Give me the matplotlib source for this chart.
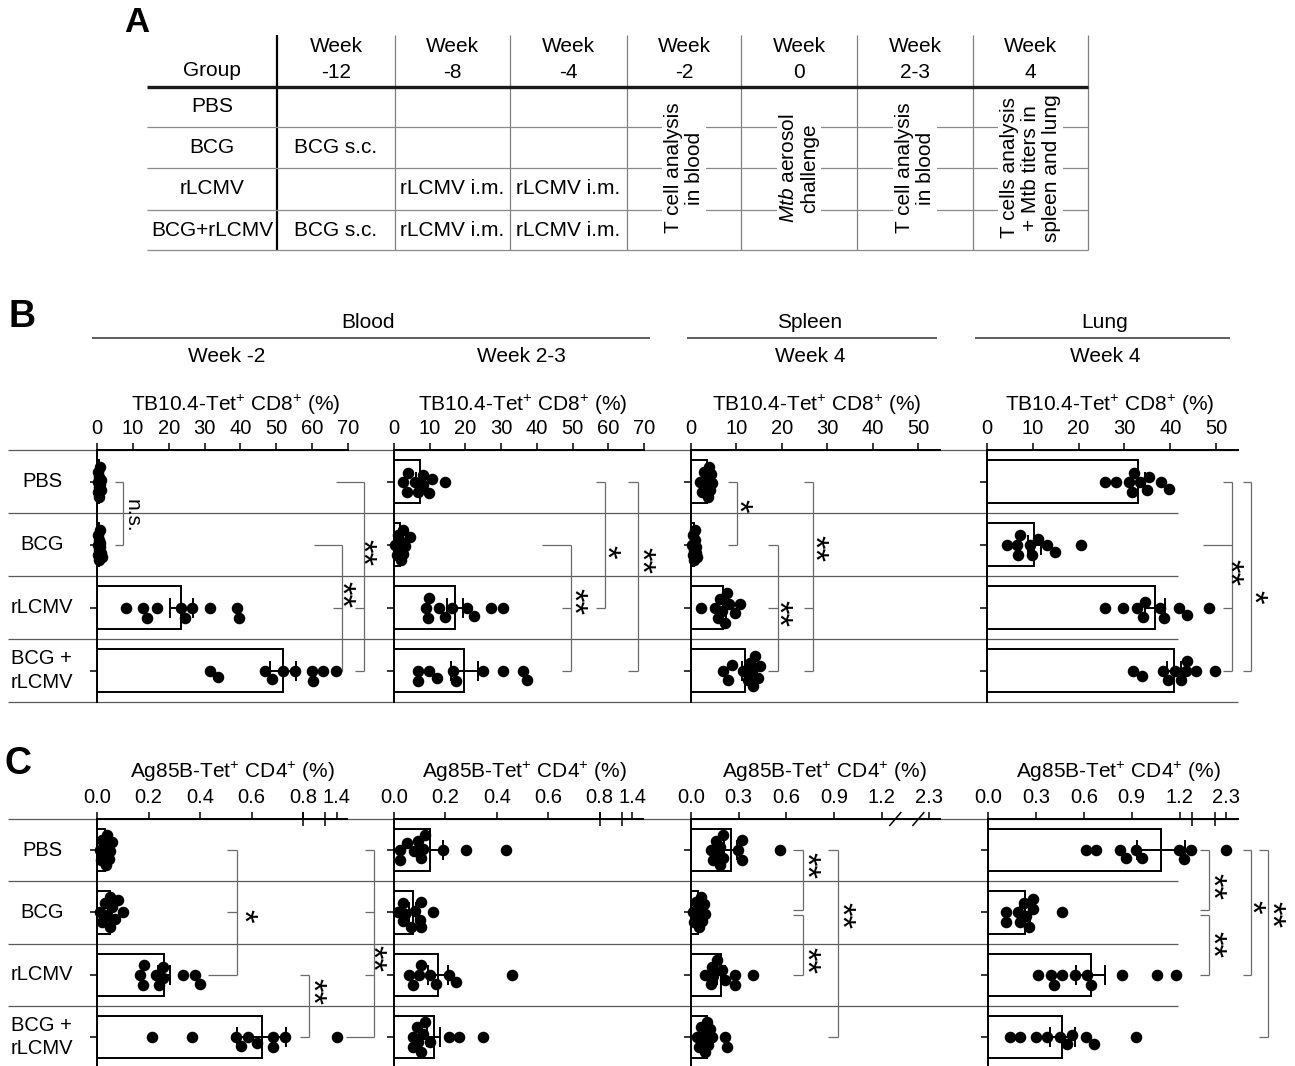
import numpy as np
import matplotlib
matplotlib.use('Agg')
import matplotlib.pyplot as plt

plt.rcParams['font.family'] = ['Liberation Sans', 'DejaVu Sans']
plt.rcParams['mathtext.fontset'] = 'custom'
plt.rcParams['mathtext.rm'] = 'Liberation Sans'
plt.rcParams['mathtext.it'] = 'Liberation Sans:italic'
plt.rcParams['mathtext.bf'] = 'Liberation Sans:bold'

W, H = 1295, 1066

# ---------------------------------------------------------------- data
groups = ['PBS', 'BCG', 'rLCMV', 'BCG +\nrLCMV']

# Panel A (schedule table)
table_groups = ['PBS', 'BCG', 'rLCMV', 'BCG+rLCMV']
table_weeks = ['-12', '-8', '-4', '-2', '0', '2-3', '4']
col_week12 = ['', 'BCG s.c.', '', 'BCG s.c.']
col_week8 = ['', '', 'rLCMV i.m.', 'rLCMV i.m.']
col_week4 = ['', '', 'rLCMV i.m.', 'rLCMV i.m.']
events = ['T cell analysis\nin blood', '$\\it{Mtb}$ aerosol\nchallenge',
          'T cell analysis\nin blood', 'T cells analysis\n+ Mtb titers in\nspleen and lung']

tet_cd8 = 'TB10.4-Tet$^{+}$ CD8$^{+}$ (%)'
tet_cd4 = 'Ag85B-Tet$^{+}$ CD4$^{+}$ (%)'

ticks_70 = [0, 10, 20, 30, 40, 50, 60, 70]
ticks_50 = [0, 10, 20, 30, 40, 50]
ticks_14 = [0.0, 0.2, 0.4, 0.6, 0.8, 1.4]
ticks_23 = [0.0, 0.3, 0.6, 0.9, 1.2, 2.3]

# Panel B: TB10.4-Tet+ CD8+ (%)
B1_pts = [[0.2, 0.3, 0.4, 0.5, 0.5, 0.6, 0.7, 0.8, 1.0, 1.2],
          [0.2, 0.3, 0.4, 0.5, 0.5, 0.6, 0.7, 0.8, 0.9, 1.1, 1.3],
          [8.1, 12.8, 13.9, 16.8, 23.5, 24.6, 26.6, 31.6, 39.0, 39.5],
          [31.5, 33.8, 46.9, 48.7, 52.0, 55.2, 60.3, 60.1, 63.0, 66.7]]
B1_mean = [0.6, 0.65, 23.5, 51.8]
B1_sem = [0.1, 0.1, 3.2, 3.6]

B2_pts = [[10.6, 6.8, 4.0, 8.2, 2.6, 14.3, 3.7, 8.0, 5.9, 9.9],
          [1.7, 2.6, 1.2, 0.3, 3.1, 4.5, 2.1, 2.6, 0.8, 1.5],
          [9.9, 9.0, 16.2, 20.4, 30.6, 9.6, 14.3, 12.7, 22.4, 27.1],
          [9.9, 6.8, 12.1, 16.4, 17.3, 24.9, 30.6, 37.3, 36.0, 6.8]]
B2_mean = [7.3, 1.8, 17.1, 19.7]
B2_sem = [1.1, 0.4, 2.2, 3.7]

B3_pts = [[4.0, 3.1, 2.0, 4.3, 2.9, 4.6, 3.5, 4.2, 2.4, 3.8],
          [0.3, 0.5, 0.7, 0.9, 1.1, 0.4, 0.8, 1.3, 0.6, 1.0],
          [2.1, 6.0, 5.3, 9.7, 7.5, 6.4, 8.4, 10.8, 7.9, 6.8],
          [9.0, 7.1, 8.2, 11.5, 12.6, 13.4, 14.1, 14.8, 13.7, 15.2, 13.0]]
B3_mean = [3.5, 0.75, 7.0, 11.9]
B3_sem = [0.3, 0.1, 0.8, 0.7]

B4_pts = [[25.8, 28.2, 30.9, 31.6, 33.4, 34.9, 35.4, 32.1, 38.1, 39.8],
          [6.8, 9.8, 4.4, 13.2, 9.4, 6.6, 14.8, 11.2, 7.2, 20.5],
          [25.8, 29.8, 34.0, 32.7, 34.5, 37.8, 38.6, 42.0, 43.7, 48.5],
          [31.8, 33.8, 39.6, 38.5, 43.6, 42.3, 43.4, 41.0, 45.6, 49.8]]
B4_mean = [33.0, 10.3, 36.7, 40.8]
B4_sem = [1.5, 1.4, 2.2, 1.6]

# Panel C: Ag85B-Tet+ CD4+ (%)
C1_pts = [[0.01, 0.015, 0.02, 0.025, 0.03, 0.035, 0.04, 0.045, 0.05, 0.06],
          [0.01, 0.02, 0.03, 0.04, 0.05, 0.05, 0.06, 0.07, 0.08, 0.10],
          [0.183, 0.255, 0.333, 0.167, 0.242, 0.40, 0.177, 0.229, 0.258, 0.381],
          [0.212, 0.368, 0.588, 0.685, 0.54, 0.62, 0.73, 0.558, 0.685, 1.4]]
C1_mean = [0.031, 0.05, 0.26, 0.64]
C1_sem = [0.006, 0.008, 0.025, 0.095]

C2_pts = [[0.052, 0.107, 0.023, 0.094, 0.189, 0.282, 0.437, 0.023, 0.114, 0.078, 0.12],
          [0.107, 0.065, 0.036, 0.10, 0.152, 0.017, 0.081, 0.036, 0.043, 0.104],
          [0.098, 0.214, 0.059, 0.163, 0.46, 0.072, 0.14, 0.243, 0.107],
          [0.094, 0.12, 0.075, 0.14, 0.075, 0.114, 0.214, 0.346, 0.253, 0.107, 0.088]]
C2_mean = [0.14, 0.072, 0.172, 0.155]
C2_sem = [0.05, 0.014, 0.038, 0.025]

C3_pts = [[0.157, 0.182, 0.319, 0.14, 0.124, 0.203, 0.298, 0.56, 0.161, 0.203, 0.182, 0.319],
          [0.01, 0.02, 0.03, 0.04, 0.05, 0.05, 0.06, 0.07, 0.08, 0.09],
          [0.124, 0.277, 0.088, 0.161, 0.193, 0.13, 0.14, 0.388, 0.277, 0.214],
          [0.04, 0.05, 0.06, 0.07, 0.08, 0.09, 0.10, 0.11, 0.12, 0.13, 0.229, 0.214]]
C3_mean = [0.25, 0.046, 0.187, 0.10]
C3_sem = [0.04, 0.01, 0.025, 0.015]

C4_pts = [[0.616, 0.679, 0.825, 0.866, 0.929, 0.967, 1.225, 1.196, 1.273, 2.3],
          [0.188, 0.236, 0.282, 0.115, 0.198, 0.255, 0.466, 0.115, 0.224, 0.282],
          [0.411, 0.543, 0.62, 0.313, 0.466, 0.397, 0.647, 0.841, 1.058, 1.175],
          [0.14, 0.37, 0.528, 0.662, 0.449, 0.203, 0.299, 0.495, 0.616, 0.929]]
C4_mean = [1.086, 0.23, 0.643, 0.466]
C4_sem = [0.15, 0.03, 0.092, 0.077]

# ---------------------------------------------------------------- layout
B_TOP, B_ROWH = 450, 63.0
C_TOP, C_ROWH = 819, 62.3
LINE_GRAY = '#5a5a5a'
BR_GRAY = '#6a6a6a'
FS = 15
TFS = 14.5
STAR_FS = 25
STAR_DX = -10

panels = [
    dict(pts=B1_pts, mean=B1_mean, sem=B1_sem, ticks=ticks_70, fmt='{:d}', left=97, top=B_TOP, rowh=B_ROWH,
         ppu=3.585, xmax=70, brk=None, title=tet_cd8, tx=236, ty=405),
    dict(pts=B2_pts, mean=B2_mean, sem=B2_sem, ticks=ticks_70, fmt='{:d}', left=394, top=B_TOP, rowh=B_ROWH,
         ppu=3.57, xmax=70, brk=None, title=tet_cd8, tx=523, ty=405),
    dict(pts=B3_pts, mean=B3_mean, sem=B3_sem, ticks=ticks_50, fmt='{:d}', left=691, top=B_TOP, rowh=B_ROWH,
         ppu=4.54, xmax=54.8, brk=None, title=tet_cd8, tx=817, ty=405),
    dict(pts=B4_pts, mean=B4_mean, sem=B4_sem, ticks=ticks_50, fmt='{:d}', left=987, top=B_TOP, rowh=B_ROWH,
         ppu=4.58, xmax=54.8, brk=None, title=tet_cd8, tx=1110, ty=405),
    dict(pts=C1_pts, mean=C1_mean, sem=C1_sem, ticks=ticks_14, fmt='{:.1f}', left=97, top=C_TOP, rowh=C_ROWH,
         ppu=257.5, xmax=1.44, brk=(0.8, 1.355, 0.0854), mark='tick', title=tet_cd4, tx=232, ty=772),
    dict(pts=C2_pts, mean=C2_mean, sem=C2_sem, ticks=ticks_14, fmt='{:.1f}', left=394, top=C_TOP, rowh=C_ROWH,
         ppu=257.0, xmax=1.44, brk=(0.8, 1.36, 0.087), mark='tick', title=tet_cd4, tx=524, ty=772),
    dict(pts=C3_pts, mean=C3_mean, sem=C3_sem, ticks=ticks_23, fmt='{:.1f}', left=691, top=C_TOP, rowh=C_ROWH,
         ppu=159.0, xmax=2.374, brk=(1.285, 2.235, 0.145), mark='slash', title=tet_cd4, tx=824, ty=772),
    dict(pts=C4_pts, mean=C4_mean, sem=C4_sem, ticks=ticks_23, fmt='{:.1f}', left=988, top=C_TOP, rowh=C_ROWH,
         ppu=159.7, xmax=2.373, brk=(1.28, 2.227, 0.14), mark='tick', title=tet_cd4, tx=1118, ty=772),
]

# significance brackets: (x_px, [(row, arm_start_px), ...], label, label_x_px, label_row)
B_brackets = [
    (123, [(0, 115), (1, 115)], 'n.s.', 132, 0.55),
    (342, [(1, 314), (2, 333), (3, 333)], '**', 350, 1.79),
    (364, [(0, 336), (2, 355), (3, 355)], '**', 371, 1.13),
    (571, [(1, 542), (2, 562), (3, 562)], '**', 582, 1.9),
    (605, [(0, 596), (2, 596)], '*', 615, 1.11),
    (638, [(0, 628), (3, 628)], '**', 650, 1.26),
    (737, [(0, 728), (1, 728)], '*', 747, 0.39),
    (778, [(1, 768), (2, 768), (3, 768)], '**', 787, 2.1),
    (813, [(0, 804), (2, 804), (3, 804)], '**', 823, 1.07),
    (1232, [(0, 1223), (1, 1203), (2, 1223), (3, 1223)], '**', 1238, 1.45),
    (1251, [(0, 1243), (3, 1243)], '*', 1262, 1.83),
]
C_brackets = [
    (237, [(0, 227), (1, 227), (2, 208)], '*', 252, 1.06),
    (309, [(2, 300), (3, 300)], '**', 321, 2.27),
    (374, [(0, 365), (1, 365), (2, 365), (3, 346)], '**', 381, 1.74),
    (803, [(0, 793), (0.96, 793)], '**', 815, 0.24),
    (803, [(1.04, 793), (2, 793)], '**', 815, 1.77),
    (838, [(0, 828), (3, 828)], '**', 850, 1.05),
    (1209, [(0, 1200), (0.96, 1200)], '**', 1221, 0.59),
    (1209, [(1.04, 1200), (2, 1200)], '**', 1221, 1.52),
    (1251, [(0, 1243), (2, 1243)], '*', 1260, 0.91),
    (1268, [(0, 1259), (3, 1259)], '**', 1280, 1.04),
]

# ---------------------------------------------------------------- helpers
fig = plt.figure(figsize=(W / 100, H / 100), dpi=100)
ov = fig.add_axes([0, 0, 1, 1])
ov.set_xlim(0, W)
ov.set_ylim(H, 0)
ov.axis('off')
ov.set_zorder(0)


def seg(xs, ys, **kw):
    kw.setdefault('solid_capstyle', 'butt')
    ov.plot(xs, ys, **kw)


def txt(x, y, s, **kw):
    kw.setdefault('fontsize', FS)
    kw.setdefault('ha', 'center')
    kw.setdefault('va', 'center')
    return ov.text(x, y, s, **kw)


def brk_funcs(lo, hi, gap):
    def fwd(x):
        x = np.asarray(x, dtype=float)
        mid = lo + (x - lo) * gap / (hi - lo)
        return np.where(x <= lo, x, np.where(x >= hi, x - hi + lo + gap, mid))

    def inv(y):
        y = np.asarray(y, dtype=float)
        mid = lo + (y - lo) * (hi - lo) / gap
        return np.where(y <= lo, y, np.where(y >= lo + gap, y - lo - gap + hi, mid))
    return fwd, inv


def swarm(ax, xs, rowh, d=10.0, maxoff=15.0):
    xs = np.asarray(xs, dtype=float)
    px = ax.transData.transform(np.column_stack([xs, np.zeros(len(xs))]))[:, 0]
    cands = sorted(np.arange(-maxoff, maxoff + 0.01, 1.0), key=lambda v: (abs(v), -v))
    offs = np.zeros(len(xs))
    placed = []
    for i in np.argsort(px, kind='stable'):
        best, best_md, chosen = None, -1, None
        for c in cands:
            md = min([np.hypot(px[i] - px[j], c - offs[j]) for j in placed], default=1e9)
            if md >= d:
                chosen = c
                break
            if md > best_md:
                best_md, best = md, c
        offs[i] = chosen if chosen is not None else best
        placed.append(i)
    return offs / rowh


# ---------------------------------------------------------------- panel A
txt(137, 22, 'A', fontsize=25, fontweight='bold')
tab_cols = [147, 277, 395, 510, 627, 741, 857, 973, 1088]
tab_rows = [87, 127, 168, 210, 250]
seg([277, 277], [35, 250], color='black', lw=1.6)
for x in tab_cols[2:]:
    seg([x, x], [35, 250], color='#808080', lw=0.9)
for y in tab_rows[1:]:
    seg([147, 1088], [y, y], color='#8a8a8a', lw=0.9)
seg([147, 1088], [87, 87], color='#1a1a1a', lw=2.4)
txt(212, 70, 'Group')
for i, wk in enumerate(table_weeks):
    cx = (tab_cols[i + 1] + tab_cols[i + 2]) / 2
    txt(cx, 47, 'Week')
    txt(cx, 73, wk)
for r, g in enumerate(table_groups):
    cy = (tab_rows[r] + tab_rows[r + 1]) / 2
    txt(212, cy, g)
    for c, col in enumerate([col_week12, col_week8, col_week4]):
        if col[r]:
            txt((tab_cols[c + 1] + tab_cols[c + 2]) / 2, cy, col[r])
for k, ev in enumerate(events):
    cx = (tab_cols[k + 4] + tab_cols[k + 5]) / 2
    txt(cx, 168, ev, rotation=90, linespacing=1.15,
        bbox=dict(facecolor='white', edgecolor='none', pad=1.5))

# ---------------------------------------------------------------- panel B / C decorations
txt(22, 317, 'B', fontsize=27, fontweight='bold')
txt(18, 764, 'C', fontsize=27, fontweight='bold')
for (x0, x1, t1, t2, cx) in [(92, 650, 'Blood', None, 368), (687, 937, 'Spleen', 'Week 4', 810),
                             (975, 1230, 'Lung', 'Week 4', 1105)]:
    seg([x0, x1], [338, 338], color='#333333', lw=1.1)
    txt(cx, 323, t1)
    if t2:
        txt(cx, 357, t2)
txt(227, 357, 'Week -2')
txt(521, 357, 'Week 2-3')

for top, rowh in [(B_TOP, B_ROWH), (C_TOP, C_ROWH)]:
    for k in range(5):
        y = top + k * rowh
        x1 = 1238 if k in (0, 4) else 1178
        seg([8, x1], [y, y], color=LINE_GRAY, lw=0.9)
    for r, g in enumerate(groups):
        txt(42, top + (r + 0.5) * rowh, g, fontsize=TFS, multialignment='left', linespacing=1.3)

# ---------------------------------------------------------------- data panels
for p in panels:
    if p['brk'] is not None:
        fwd, inv = brk_funcs(*p['brk'])
        span = float(fwd(p['xmax']))
    else:
        span = p['xmax']
    width = p['ppu'] * span
    height = 4 * p['rowh']
    ax = fig.add_axes([p['left'] / W, 1 - (p['top'] + height) / H, width / W, height / H])
    ax.set_zorder(1)
    ax.patch.set_alpha(0)
    if p['brk'] is not None:
        ax.set_xscale('function', functions=(fwd, inv))
    ax.set_xlim(0, p['xmax'])
    ax.set_ylim(3.5, -0.5)
    rows = np.arange(4)
    ax.barh(rows, p['mean'], height=0.68, color='white', edgecolor='black', linewidth=1.4, zorder=2)
    ax.errorbar(p['mean'], rows, xerr=p['sem'], fmt='none', ecolor='black', elinewidth=1.4,
                capsize=7, capthick=1.4, zorder=3)
    for r in rows:
        offs = swarm(ax, p['pts'][r], p['rowh'])
        ax.plot(p['pts'][r], r + offs, 'o', ms=7.3, color='black', mec='black', zorder=4, clip_on=False)
    ax.set_xticks(p['ticks'])
    ax.set_xticklabels([p['fmt'].format(t) for t in p['ticks']])
    ax.minorticks_off()
    ax.tick_params(axis='x', which='major', top=True, bottom=False, labeltop=True, labelbottom=False,
                   direction='out', length=5, width=1.1, pad=3.5, labelsize=TFS)
    ax.set_yticks(rows)
    ax.tick_params(axis='y', which='major', left=True, labelleft=False, direction='out', length=5, width=1.1)
    for s in ('right', 'bottom'):
        ax.spines[s].set_visible(False)
    for s in ('top', 'left'):
        ax.spines[s].set_linewidth(1.4)
        ax.spines[s].set_color('black')
    txt(p['tx'], p['ty'], p['title'])
    if p['brk'] is not None:
        lo, hi, _ = p['brk']
        bx = ax.transData.transform([[lo, 0], [hi, 0]])[:, 0]
        yax = p['top']
        for x in bx:
            if p['mark'] == 'tick':
                seg([x, x], [yax - 7, yax + 7], color='black', lw=1.1)
            else:
                seg([x - 6, x + 6], [yax + 7, yax - 7], color='black', lw=1.1)

# ---------------------------------------------------------------- brackets
for top, rowh, brs in [(B_TOP, B_ROWH, B_brackets), (C_TOP, C_ROWH, C_brackets)]:
    for (bx, arms, lab, lx, lrow) in brs:
        ys = [top + (r + 0.5) * rowh for r, _ in arms]
        seg([bx, bx], [min(ys), max(ys)], color=BR_GRAY, lw=0.9)
        for (r, ax0), y in zip(arms, ys):
            seg([ax0, bx], [y, y], color=BR_GRAY, lw=0.9)
        ly = top + (lrow + 0.5) * rowh
        if lab == 'n.s.':
            txt(lx, ly, lab, rotation=270, fontsize=FS)
        else:
            txt(lx + STAR_DX, ly, lab, rotation=270, fontsize=STAR_FS)

fig.savefig('out.png', dpi=100)
